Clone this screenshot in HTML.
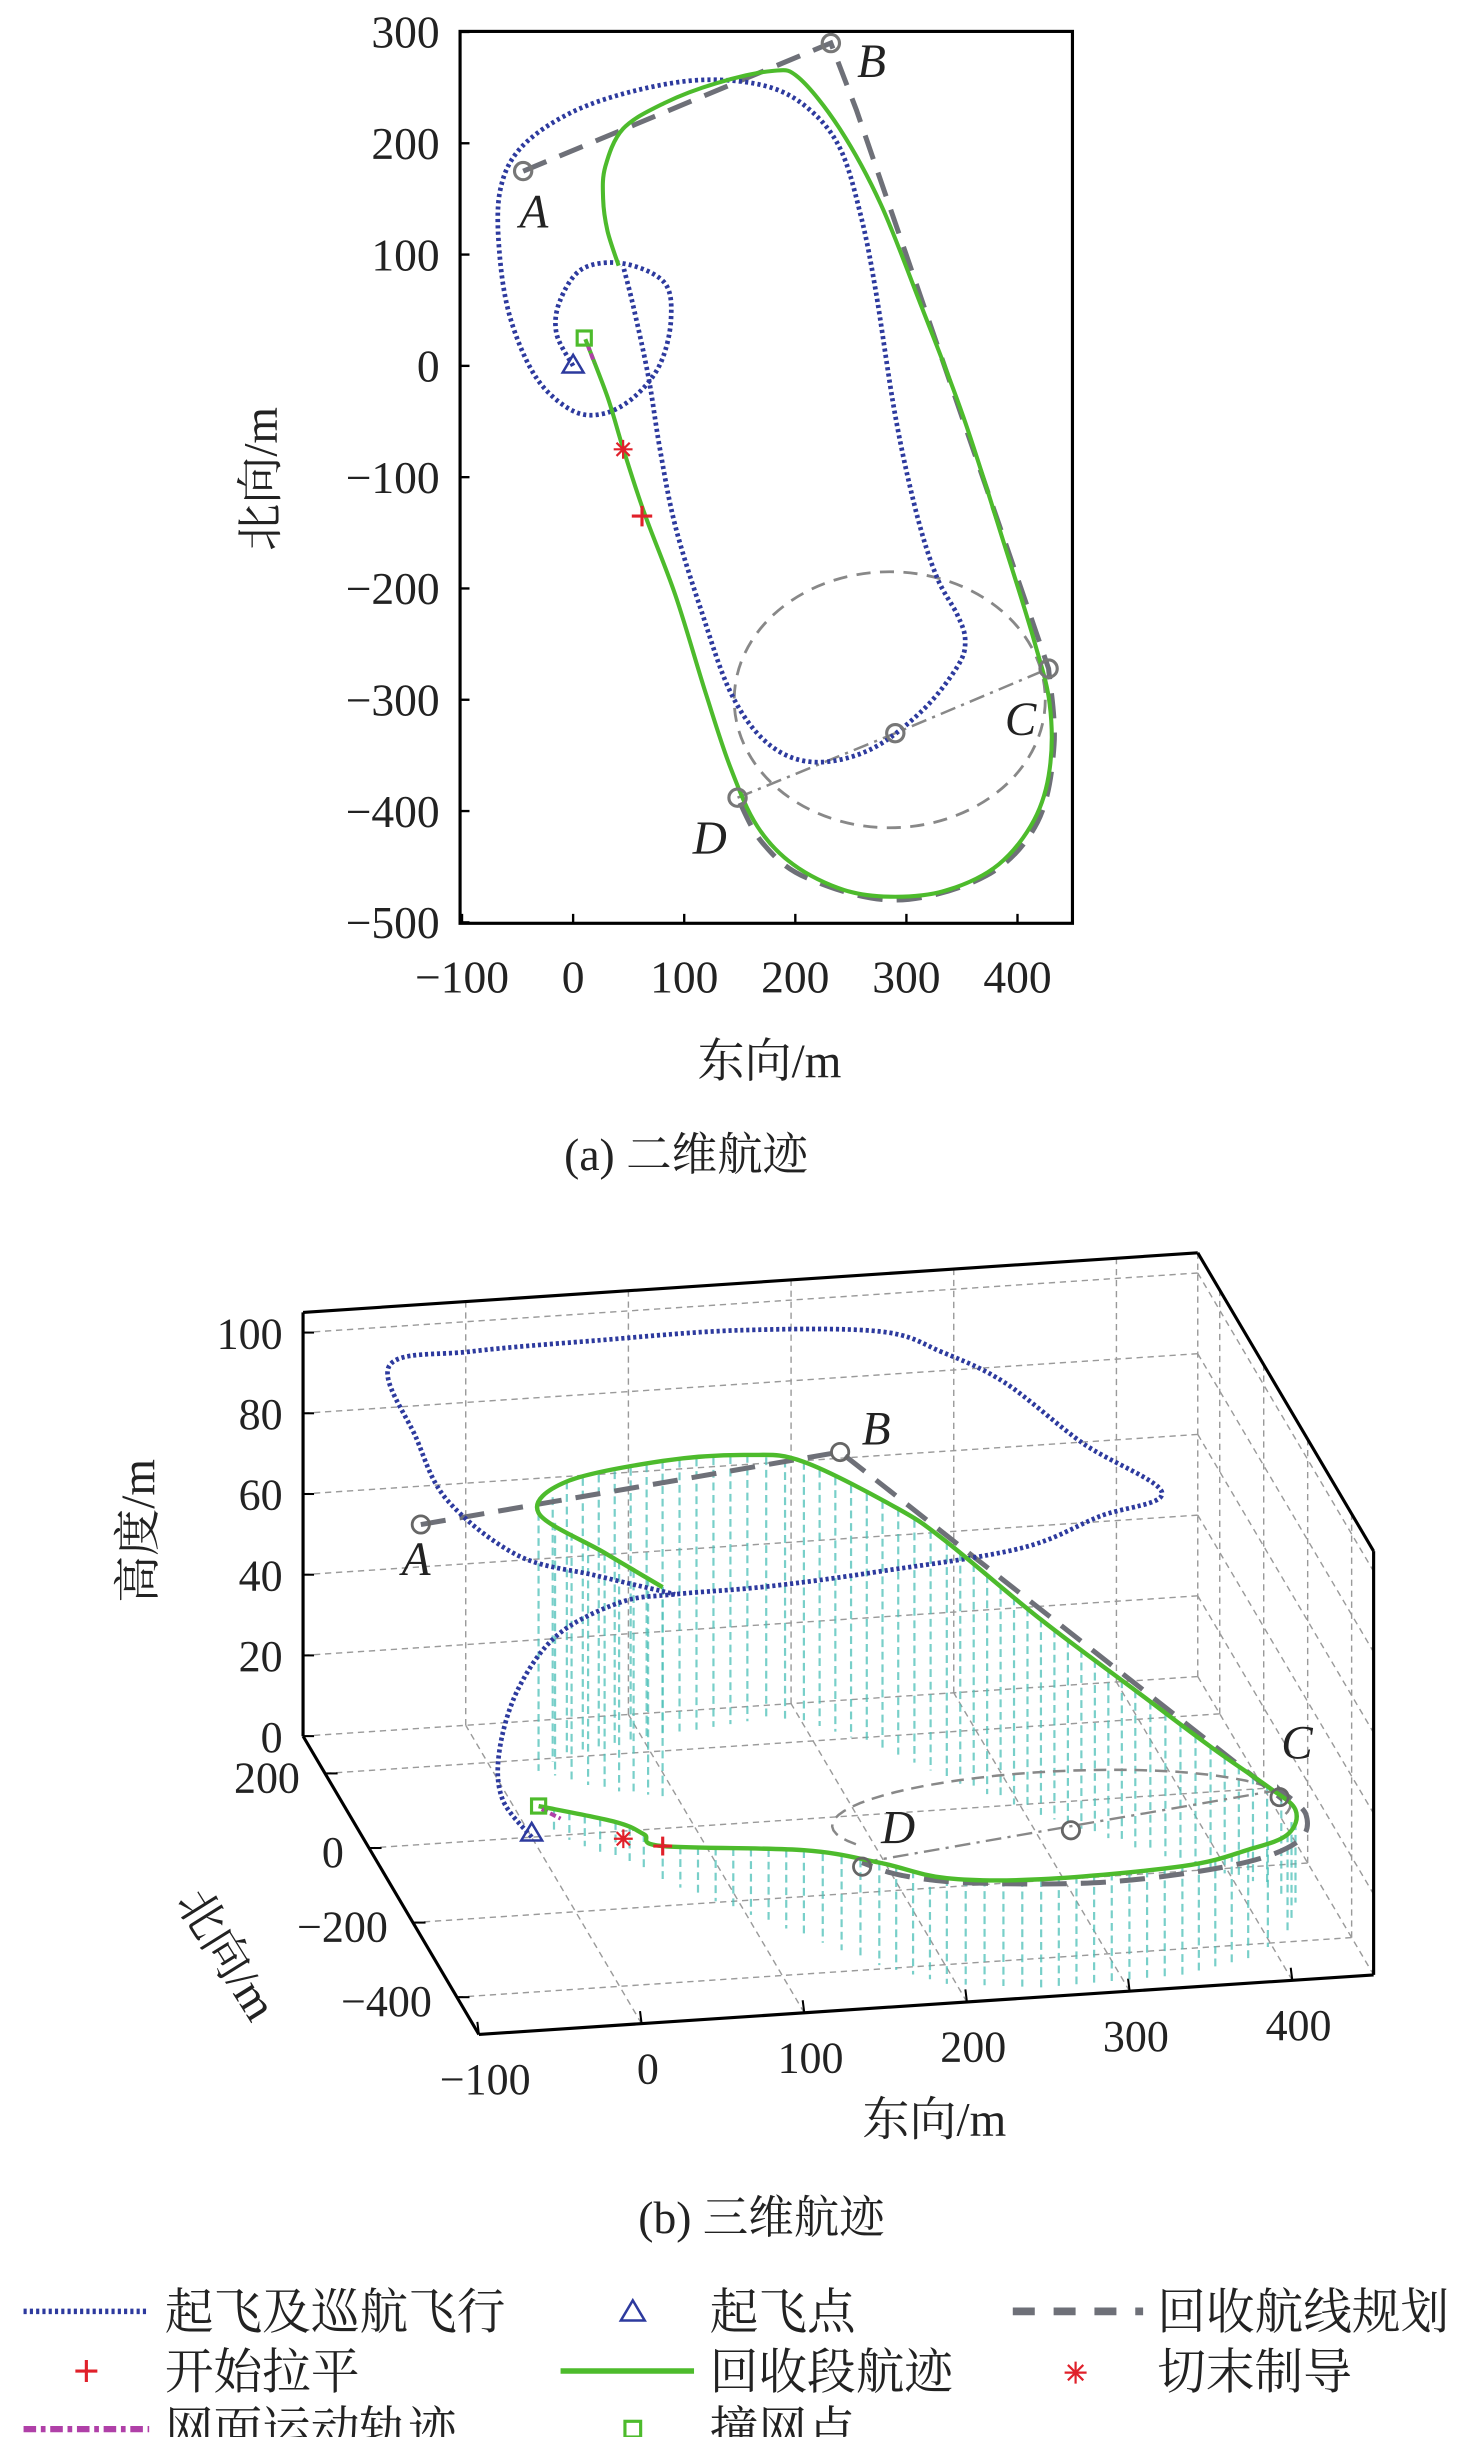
<!DOCTYPE html>
<html><head><meta charset="utf-8"><title>航迹</title>
<style>
html,body{margin:0;padding:0;background:#fff;}
svg{display:block;}
text{font-family:"Liberation Serif","Noto Serif CJK SC",serif;fill:#222;}
</style></head>
<body>
<svg id="fig" xmlns="http://www.w3.org/2000/svg" width="1476" height="2437" viewBox="0 0 940 1552" preserveAspectRatio="none">
<rect x="0" y="0" width="940" height="1552" fill="#fff"/>
<g id="top2d"></g>
<g id="bot3d"></g>
<g id="legend"></g>
</svg>
<script>
// ---------- 2D data ----------
const xTicks2d=[-100,0,100,200,300,400];
const yTicks2d=[300,200,100,0,-100,-200,-300,-400,-500];
const cruiseEast=[0,-15,-12,8,45,82,88,78,55,27,-1,-33,-56,-66,-66,-47,-1,59,119,175,212,240,258,272,290,309,327,346,353,346,314,267,216,175,142,115,92,78,68,55,45];
const cruiseNorth=[0,29,58,87,92,75,41,1,-28,-43,-40,-11,41,98,156,196,228,248,257,251,231,196,139,70,-45,-132,-189,-224,-247,-270,-310,-345,-356,-339,-294,-219,-144,-74,-11,50,90];
const recEast=[41,31,27,29,45,82,129,179,203,240,277,314,351,388,415,429,429,415,383,337,290,244,198,166,142,119,92,64,45,31,11];
const recNorth=[90,121,150,179,213,236,254,265,259,213,145,52,-45,-160,-247,-304,-362,-408,-448,-471,-477,-471,-448,-414,-362,-293,-206,-132,-74,-28,24];
const planEast=[-45,232,255,428,433,418,372,290,210,170,148];
const planNorth=[175,290,230,-272,-340,-410,-458,-480,-460,-428,-388];
const circCenter=[285,-300]; const circRadius=[140,115];
const dashDotEast=[148,290,428]; const dashDotNorth=[-388,-330,-272];
const pointNames=["A","B","C","D"];
const takeoff=[0,0], impact=[10,25], cutoff=[45,-75], flare=[62,-135];

// ---------- 3D data ----------
const eTicks3d=[-100,0,100,200,300,400];
const nTicks3d=[200,0,-200,-400];
const hTicks3d=[0,20,40,60,80,100];
const cr3E=[0,-13.9,-11.8,3.6,28,63.9,93.6,138,193.4,269.5,311,353.7,325.7,297.7,272.6,244.8,161.3,73.7,-5.5,-60.4,-50.8,-38.2,-1.5,42.7,93.6];
const cr3N=[0,30,60,88,90,70,40,-60,-150,-230,-280,-250,-100,50,150,230,255,250,235,200,150,100,50,20,40];
const cr3H=[0,7,16,28.5,41,50,54,64,74.5,85.6,97,99,98,100,99,97.5,97.7,98,98.8,100,86.5,75.2,65.2,61.8,54];
const rc3E=[91.7,59.7,27.2,50.4,112.9,168,201.8,245.6,266,309,353.5,390.3,418.3,429,413.3,381,336.5,249,194.4,161,126.8,62.3,55.4,42.1,7.5];
const rc3N=[83,110,170,213,240,262,255,150,80,-30,-130,-200,-250,-300,-380,-440,-470,-475,-450,-390,-300,-135,-100,-70,24];
const rc3H=[51.8,58.7,63.9,67.1,68,66,64,60.9,58.6,48.4,38.9,30.4,24.5,23,24.7,27.3,27.2,26.8,26.2,25.4,21.1,8.6,8.5,9.1,5.3];
const pl3E=[-44.5,228.8,250,423];
const pl3N=[175,290,235,-272];
const pl3H=[62.5,62.5,58,23.7];
const planLoopE=[423,430,415,370,290,210,170,150.7];
const planLoopN=[-272,-340,-410,-458,-480,-460,-428,-388];
const planAlt=25.5;
const dd3E=[150.7,286.9,423]; const dd3N=[-388,-330,-272];
const mk3=[[ -44.5,175,62.5],[228.8,290,62.5],[423,-272,23.7],[150.7,-388,24.5],[286.9,-330,24.5]];
const take3=[0,0,0.8], imp3=[7.5,24,5.3], cut3=[46.2,-75,5.3], flare3=[62.3,-135,8.6];

const NS="http://www.w3.org/2000/svg";
function mk(parent,tag,attrs,txt){const e=document.createElementNS(NS,tag);for(const k in attrs)e.setAttribute(k,attrs[k]);if(txt!==undefined)e.textContent=txt;parent.appendChild(e);return e;}
function smooth(pts){let d=`M${pts[0][0].toFixed(1)},${pts[0][1].toFixed(1)}`;for(let i=0;i<pts.length-1;i++){const p0=pts[Math.max(0,i-1)],p1=pts[i],p2=pts[i+1],p3=pts[Math.min(pts.length-1,i+2)];const c1=[p1[0]+(p2[0]-p0[0])/6,p1[1]+(p2[1]-p0[1])/6],c2=[p2[0]-(p3[0]-p1[0])/6,p2[1]-(p3[1]-p1[1])/6];d+=`C${c1[0].toFixed(1)},${c1[1].toFixed(1)} ${c2[0].toFixed(1)},${c2[1].toFixed(1)} ${p2[0].toFixed(1)},${p2[1].toFixed(1)}`;}return d;}
function polyD(pts){return pts.map((p,i)=>(i?'L':'M')+p[0].toFixed(1)+','+p[1].toFixed(1)).join('');}

const BLUE="#2d3a9e",GREEN="#4dbb2c",GRAY="#6e7078",RED="#e0202a",MAG="#b040a8",CYAN="#4cc0b8";

// ================= 2D =================
const topG=document.getElementById('top2d');
const X=v=>365+v*0.7075, Y=v=>233-v*0.7088;
const L=293,R=683,T=20,B=588;
let el;
yTicks2d.forEach(v=>{
  el=mk(topG,'line',{x1:L,x2:L+6,y1:Y(v),y2:Y(v),stroke:'#000','stroke-width':1.5});
  
  
  el=mk(topG,'text',{x:280,y:Y(v)+10,'text-anchor':'end','font-size':29},(v<0?'−':'')+Math.abs(v));
  
  
});
xTicks2d.forEach(v=>{
  el=mk(topG,'line',{x1:X(v),x2:X(v),y1:B,y2:B-6,stroke:'#000','stroke-width':1.5});
  
  
  el=mk(topG,'text',{x:X(v),y:632,'text-anchor':'middle','font-size':29},(v<0?'−':'')+Math.abs(v));
  
  
});
el=mk(topG,'rect',{x:L,y:T,width:R-L,height:B-T,fill:'none',stroke:'#000','stroke-width':2});



{const cx=X(circCenter[0]),cy=Y(circCenter[1]),rx=circRadius[0]*0.7075,ry=circRadius[1]*0.7088;
 el=mk(topG,'ellipse',{cx:cx,cy:cy,rx:rx,ry:ry,fill:'none',stroke:'#888','stroke-width':1.8,'stroke-dasharray':'9 6'});
 
 }
el=mk(topG,'path',{d:polyD(dashDotEast.map((e,i)=>[X(e),Y(dashDotNorth[i])])),fill:'none',stroke:'#888','stroke-width':1.6,'stroke-dasharray':'10 4 2 4'});


{const pts=planEast.map((e,i)=>[X(e),Y(planNorth[i])]);
 const d=polyD(pts.slice(0,4))+smooth(pts.slice(3)).replace(/^M[^C]*/,'');
 el=mk(topG,'path',{d:d,fill:'none',stroke:GRAY,'stroke-width':3.2,'stroke-dasharray':'16 9'});
 
 }
el=mk(topG,'path',{d:smooth(cruiseEast.map((e,i)=>[X(e),Y(cruiseNorth[i])])),fill:'none',stroke:BLUE,'stroke-width':3,'stroke-dasharray':'2 2'});


el=mk(topG,'path',{d:smooth(recEast.map((e,i)=>[X(e),Y(recNorth[i])])),fill:'none',stroke:GREEN,'stroke-width':2.6});


el=mk(topG,'line',{x1:X(impact[0]+3),y1:Y(impact[1]-6),x2:X(impact[0]+9),y2:Y(impact[1]-22),stroke:MAG,'stroke-width':2.5,'stroke-dasharray':'4 2'});


[[planEast[0],planNorth[0]],[planEast[1],planNorth[1]],[planEast[3],planNorth[3]],[planEast[10],planNorth[10]]].forEach((p,i)=>{
  el=mk(topG,'circle',{cx:X(p[0]),cy:Y(p[1]),r:5.5,fill:'none',stroke:'#777','stroke-width':2});
  
  
});
el=mk(topG,'circle',{cx:X(dashDotEast[1]),cy:Y(dashDotNorth[1]),r:5.5,fill:'none',stroke:'#777','stroke-width':2});


[[340,145],[555,49],[650,468],[452,544]].forEach((p,i)=>{
  el=mk(topG,'text',{x:p[0],y:p[1],'text-anchor':'middle','font-size':30,'font-style':'italic'},pointNames[i]);
  
  
});
function triangle(g,x,y,s){return mk(g,'path',{d:`M${x},${y-s}L${x+s*0.95},${y+s*0.6}L${x-s*0.95},${y+s*0.6}Z`,fill:'none',stroke:BLUE,'stroke-width':1.6});}
function square(g,x,y,s){return mk(g,'rect',{x:x-s,y:y-s,width:2*s,height:2*s,fill:'none',stroke:GREEN,'stroke-width':2});}
function plus(g,x,y,s){return mk(g,'path',{d:`M${x-s},${y}H${x+s}M${x},${y-s}V${y+s}`,stroke:RED,'stroke-width':2});}
function star(g,x,y,s){return mk(g,'path',{d:`M${x-s},${y}H${x+s}M${x},${y-s}V${y+s}M${x-s*0.7},${y-s*0.7}L${x+s*0.7},${y+s*0.7}M${x-s*0.7},${y+s*0.7}L${x+s*0.7},${y-s*0.7}`,stroke:RED,'stroke-width':1.4});}
el=triangle(topG,X(takeoff[0]),Y(takeoff[1]),7);


el=square(topG,X(impact[0]),Y(impact[1]),4.5);


el=star(topG,X(cutoff[0]),Y(cutoff[1]),6);


el=plus(topG,X(flare[0]),Y(flare[1]),6.5);


el=mk(topG,'text',{x:490,y:686,'text-anchor':'middle','font-size':30},'东向/m');


el=mk(topG,'text',{x:0,y:0,'text-anchor':'middle','font-size':30,transform:'translate(176,305) rotate(-90)'},'北向/m');


el=mk(topG,'text',{x:437,y:745,'text-anchor':'middle','font-size':29},'(a) 二维航迹');



// ================= 3D =================
const botG=document.getElementById('bot3d');
const P=(e,n,h)=>[338.6+1.036*e-0.14*n,1170-0.069*e-0.2375*n-2.57*h];
const E0=-100,E1=450,N0=-500,N1=300,H1=105;
function gline(a,b,name){const p=P(...a),q=P(...b);const l=mk(botG,'line',{x1:p[0],y1:p[1],x2:q[0],y2:q[1],stroke:'#9a9a9a','stroke-width':0.9,'stroke-dasharray':'4 3'});}
eTicks3d.forEach(e=>{gline([e,N1,0],[e,N1,H1],'back-grid-line');gline([e,N0,0],[e,N1,0],'floor-grid-line');});
hTicks3d.forEach(h=>{gline([E0,N1,h],[E1,N1,h],'back-grid-line');gline([E1,N1,h],[E1,N0,h],'side-grid-line');});
nTicks3d.forEach(n=>{gline([E0,n,0],[E1,n,0],'floor-grid-line');gline([E1,n,0],[E1,n,H1],'side-grid-line');});
gline([E1,N1,0],[E1,N1,H1],'back-grid-line');
function aline(a,b,name){const p=P(...a),q=P(...b);const l=mk(botG,'line',{x1:p[0],y1:p[1],x2:q[0],y2:q[1],stroke:'#000','stroke-width':2});}
aline([E0,N1,0],[E0,N1,H1],'altitude-axis');
aline([E0,N1,H1],[E1,N1,H1],'box-top-back-edge');
aline([E1,N1,H1],[E1,N0,H1],'box-top-right-edge');
aline([E1,N0,H1],[E1,N0,0],'box-front-right-edge');
aline([E0,N0,0],[E1,N0,0],'east-axis');
aline([E0,N0,0],[E0,N1,0],'north-axis');
hTicks3d.forEach(h=>{const p=P(E0,N1,h);
  el=mk(botG,'line',{x1:p[0],y1:p[1],x2:p[0]+7,y2:p[1],stroke:'#000','stroke-width':1.3});
  
  
  el=mk(botG,'text',{x:180,y:p[1]+10,'text-anchor':'end','font-size':28},String(h));
  
  });
eTicks3d.forEach(e=>{const p=P(e,N0,0);
  el=mk(botG,'line',{x1:p[0],y1:p[1],x2:p[0]-1,y2:p[1]-8,stroke:'#000','stroke-width':1.3});
  
  
  el=mk(botG,'text',{x:p[0]+4,y:p[1]+38,'text-anchor':'middle','font-size':28},(e<0?'−':'')+Math.abs(e));
  
  });
nTicks3d.forEach(n=>{const p=P(E0,n,0);
  el=mk(botG,'line',{x1:p[0],y1:p[1],x2:p[0]+8,y2:p[1],stroke:'#000','stroke-width':1.3});
  
  
  el=mk(botG,'text',{x:p[0]-16,y:p[1]+12,'text-anchor':'end','font-size':28},(n<0?'−':'')+Math.abs(n));
  
  });

{const pts3=rc3E.map((e,i)=>[e,rc3N[i],rc3H[i]]);
 for(let i=0;i<pts3.length-1;i++){const a=pts3[i],b=pts3[i+1];const pa=P(...a),pb=P(...b);const len=Math.hypot(pb[0]-pa[0],pb[1]-pa[1]);const k=Math.max(1,Math.round(len/11));
  for(let j=0;j<k;j++){const t=j/k;const q=[a[0]+(b[0]-a[0])*t,a[1]+(b[1]-a[1])*t,a[2]+(b[2]-a[2])*t];const t3=P(...q),b3=P(q[0],q[1],0);
   el=mk(botG,'line',{x1:t3[0],y1:t3[1],x2:b3[0],y2:b3[1],stroke:CYAN,'stroke-width':1.4,'stroke-dasharray':'5 3',opacity:0.75});
   
   }}}
{const pts=[];for(let a=200;a>=-20;a-=5){const r=a*Math.PI/180;pts.push(P(circCenter[0]+circRadius[0]*Math.cos(r),circCenter[1]+circRadius[1]*Math.sin(r),planAlt));}
 el=mk(botG,'path',{d:polyD(pts),fill:'none',stroke:'#888','stroke-width':1.6,'stroke-dasharray':'8 5'});
 
 }
el=mk(botG,'path',{d:polyD(dd3E.map((e,i)=>P(e,dd3N[i],planAlt))),fill:'none',stroke:'#888','stroke-width':1.5,'stroke-dasharray':'10 4 2 4'});


{const a=pl3E.map((e,i)=>P(e,pl3N[i],pl3H[i]));const b=planLoopE.map((e,i)=>P(e,planLoopN[i],planAlt));
 el=mk(botG,'path',{d:polyD(a)+smooth(b).replace(/^M/,'L'),fill:'none',stroke:GRAY,'stroke-width':3.2,'stroke-dasharray':'16 9'});
 
 }
el=mk(botG,'path',{d:smooth(cr3E.map((e,i)=>P(e,cr3N[i],cr3H[i]))),fill:'none',stroke:BLUE,'stroke-width':3,'stroke-dasharray':'2 1.8'});


el=mk(botG,'path',{d:smooth(rc3E.map((e,i)=>P(e,rc3N[i],rc3H[i]))),fill:'none',stroke:GREEN,'stroke-width':2.8});


{const p=P(...imp3);el=mk(botG,'line',{x1:p[0]+2,y1:p[1]+2,x2:p[0]+14,y2:p[1]+8,stroke:MAG,'stroke-width':2.5,'stroke-dasharray':'4 2'});
 
 }
mk3.forEach(m=>{const p=P(...m);
  el=mk(botG,'circle',{cx:p[0],cy:p[1],r:5.5,fill:'none',stroke:'#666','stroke-width':1.8});
  
  });
[[265,1003],[558,920],[826,1120],[572,1174]].forEach((p,i)=>{
  el=mk(botG,'text',{x:p[0],y:p[1],'text-anchor':'middle','font-size':30,'font-style':'italic'},pointNames[i]);
  
  });
{let p=P(...take3);el=triangle(botG,p[0],p[1],7);
 p=P(...imp3);el=square(botG,p[0],p[1],4.5);
 p=P(...cut3);el=star(botG,p[0],p[1],6);
 p=P(...flare3);el=plus(botG,p[0],p[1],6);}
el=mk(botG,'text',{x:595,y:1360,'text-anchor':'middle','font-size':30},'东向/m');


el=mk(botG,'text',{x:0,y:0,'text-anchor':'middle','font-size':30,transform:'translate(98,975) rotate(-90)'},'高度/m');


el=mk(botG,'text',{x:0,y:0,'text-anchor':'middle','font-size':30,transform:'translate(136,1250) rotate(58)'},'北向/m');


el=mk(botG,'text',{x:485,y:1422,'text-anchor':'middle','font-size':29},'(b) 三维航迹');



// ================= legend =================
const lg=document.getElementById('legend');
const rows=[1472,1510,1547];
function ltext(x,y,t,name){const e=mk(lg,'text',{x:x,y:y+11,'font-size':31},t);}
el=mk(lg,'line',{x1:15,x2:95,y1:rows[0],y2:rows[0],stroke:BLUE,'stroke-width':3.5,'stroke-dasharray':'2 2'});


ltext(105,rows[0],'起飞及巡航飞行','legend-label-cruise');
el=plus(lg,55,rows[1],7);


ltext(105,rows[1],'开始拉平','legend-label-flare');
el=mk(lg,'line',{x1:15,x2:95,y1:rows[2],y2:rows[2],stroke:MAG,'stroke-width':4,'stroke-dasharray':'8 3 3 3'});


ltext(105,rows[2],'网面运动轨迹','legend-label-net');
el=triangle(lg,403,rows[0]+1,8);


ltext(452,rows[0],'起飞点','legend-label-takeoff');
el=mk(lg,'line',{x1:357,x2:442,y1:rows[1],y2:rows[1],stroke:GREEN,'stroke-width':3.5});


ltext(452,rows[1],'回收段航迹','legend-label-recovery');
el=square(lg,403,rows[2],5);


ltext(452,rows[2],'撞网点','legend-label-impact');
el=mk(lg,'line',{x1:645,x2:728,y1:rows[0],y2:rows[0],stroke:GRAY,'stroke-width':5,'stroke-dasharray':'14 12'});


ltext(737,rows[0],'回收航线规划','legend-label-plan');
el=star(lg,685,rows[1]+1,7);


ltext(737,rows[1],'切末制导','legend-label-cutoff');
</script>
</body></html>
